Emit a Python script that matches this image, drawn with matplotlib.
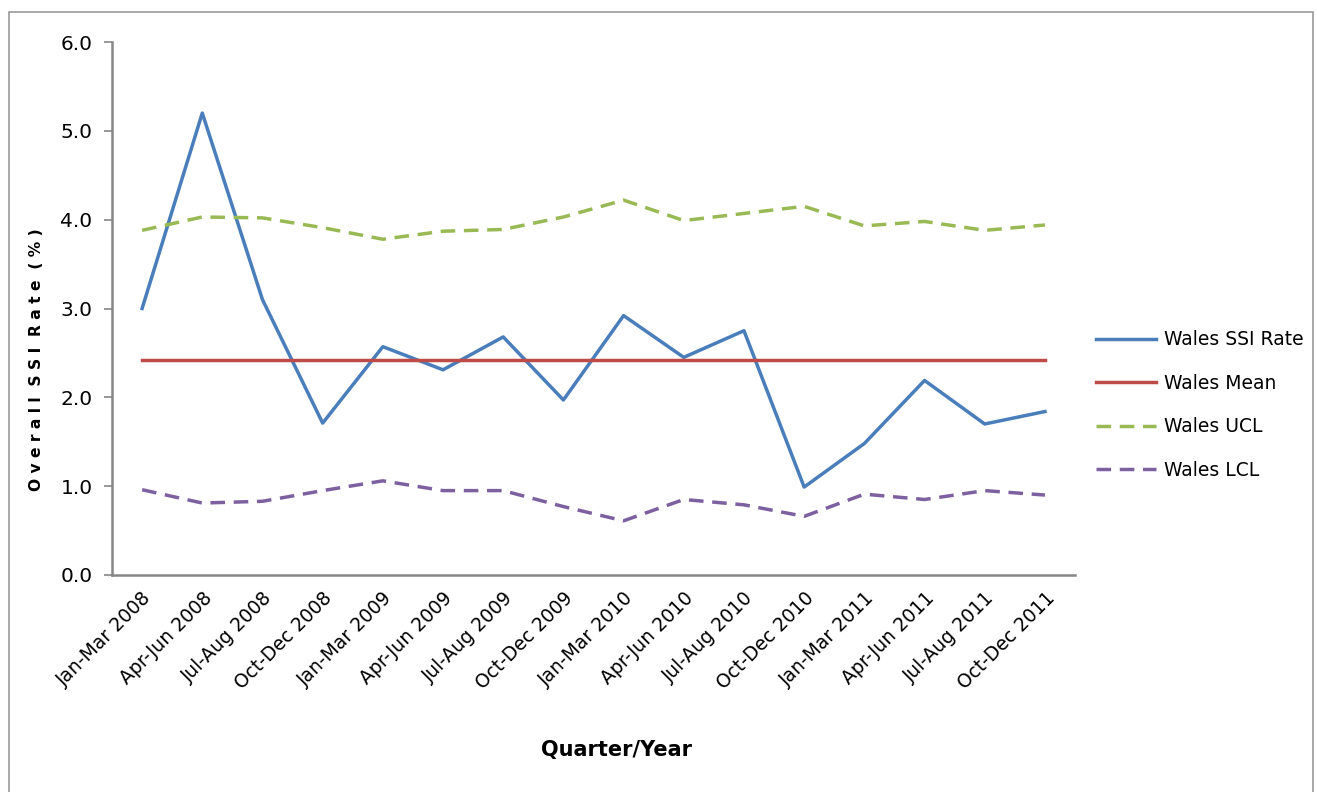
"""SSI control chart for Wales: quarterly rate vs mean and control limits."""

import matplotlib

matplotlib.use("Agg")

import matplotlib.pyplot as plt  # noqa: E402
from matplotlib.patches import Rectangle  # noqa: E402

W, H, DPI = 1317, 792, 100

quarters = [
    "Jan-Mar 2008", "Apr-Jun 2008", "Jul-Aug 2008", "Oct-Dec 2008",
    "Jan-Mar 2009", "Apr-Jun 2009", "Jul-Aug 2009", "Oct-Dec 2009",
    "Jan-Mar 2010", "Apr-Jun 2010", "Jul-Aug 2010", "Oct-Dec 2010",
    "Jan-Mar 2011", "Apr-Jun 2011", "Jul-Aug 2011", "Oct-Dec 2011",
]
ssi_rate = [3.00, 5.20, 3.10, 1.71, 2.57, 2.31, 2.68, 1.97,
            2.92, 2.45, 2.75, 0.99, 1.48, 2.19, 1.70, 1.84]
wales_mean = [2.42] * len(quarters)
ucl = [3.88, 4.03, 4.02, 3.91, 3.78, 3.87, 3.89, 4.03,
       4.22, 3.99, 4.07, 4.15, 3.93, 3.98, 3.88, 3.94]
lcl = [0.96, 0.81, 0.83, 0.95, 1.06, 0.95, 0.95, 0.77,
       0.61, 0.85, 0.79, 0.66, 0.91, 0.85, 0.95, 0.90]

BLUE, RED, GREEN, PURPLE = "#4A7EBB", "#BE4B48", "#98B954", "#7D60A0"
AXIS_GREY = "#868686"

fig = plt.figure(figsize=(W / DPI, H / DPI), dpi=DPI)
# outer chart-area border, open at the bottom like the source
fig.patches.append(Rectangle((9 / W, -0.02), (1313 - 9) / W, 1.02 - 12 / H,
                             transform=fig.transFigure, fill=False,
                             edgecolor="#9a9a9a", linewidth=1.2))

ax = fig.add_axes([112 / W, 1 - 575 / H, (1075 - 112) / W, (575 - 42) / H])
x = range(len(quarters))
lw = 2.5
dash = (4.2, 2.5)
ax.plot(x, ssi_rate, color=BLUE, linewidth=lw, label="Wales SSI Rate")
ax.plot(x, wales_mean, color=RED, linewidth=lw, label="Wales Mean")
ax.plot(x, ucl, color=GREEN, linewidth=lw, dashes=dash, label="Wales UCL")
ax.plot(x, lcl, color=PURPLE, linewidth=lw, dashes=dash, label="Wales LCL")

ax.set_xlim(-0.5, len(quarters) - 0.5)
ax.set_ylim(0, 6)
ax.set_yticks([0, 1, 2, 3, 4, 5, 6])
ax.set_yticklabels([f"{v:.1f}" for v in range(7)], fontsize=14.5)
ax.set_xticks(list(x))
ax.set_xticklabels(quarters, rotation=45, ha="right", rotation_mode="anchor", fontsize=13.5)
ax.tick_params(axis="x", length=0, pad=10)
ax.tick_params(axis="y", length=6, width=1.2, color=AXIS_GREY, pad=8)

for side in ("top", "right"):
    ax.spines[side].set_visible(False)
for side in ("left", "bottom"):
    ax.spines[side].set_color(AXIS_GREY)
    ax.spines[side].set_linewidth(1.8)

fig.text(37 / W, 1 - 360 / H, "O v e r a l l  S S I  R a t e  ( % )", rotation=90,
         ha="center", va="center", fontsize=11.2, fontweight="bold")
fig.text(617 / W, 1 - 750 / H, "Quarter/Year", ha="center", va="center",
         fontsize=15, fontweight="bold")

ax.legend(loc="center left", bbox_to_anchor=(1079 / W, 1 - 405 / H),
          bbox_transform=fig.transFigure, frameon=False, fontsize=13.5,
          handlelength=3.2, handletextpad=0.45, labelspacing=1.3)

fig.savefig("out.png", dpi=DPI)
plt.close(fig)
